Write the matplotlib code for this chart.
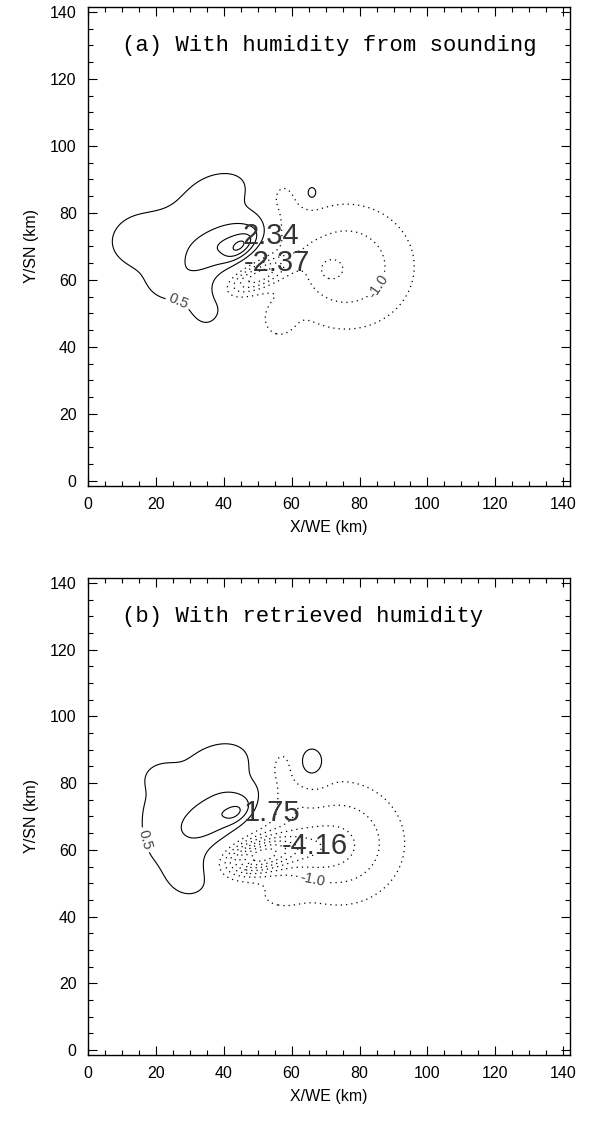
"""Two-panel contour chart: (a) humidity from sounding, (b) retrieved humidity."""
import numpy as np
import matplotlib
matplotlib.use("Agg")
import matplotlib.pyplot as plt
from matplotlib.ticker import MultipleLocator

plt.rcParams["font.family"] = ["Liberation Sans", "DejaVu Sans"]

# --- data ---------------------------------------------------------------------
# field = sum of elliptical gaussian features
# columns: centre x (km), centre y (km), amplitude, sigma major, sigma minor, angle (deg)
blobs_a = [
    (24, 73, 0.75, 14, 8, 10),
    (14, 72, 0.35, 5, 5, 0),
    (39, 87, 0.70, 8, 5, 15),
    (35, 52, 0.75, 4, 5, 0),
    (25, 58, 0.55, 7, 5, 0),
    (42, 71, 1.25, 10, 4.5, 30),
    (45, 70, 0.95, 3.5, 1.8, 40),
    (66, 86, 1.10, 1.3, 1.7, 0),
    (50, 61, -2.10, 6.5, 2.5, 25),
    (76, 64, -1.40, 14, 13, 0),
    (71, 63, -0.40, 2.5, 2.5, 0),
    (57, 84, -0.60, 3.5, 5, 0),
    (60, 76, -0.40, 4, 4, 0),
    (56, 48, -0.60, 3.5, 4, 0),
]
blobs_b = [
    (30, 70, 0.75, 12, 13, 0),
    (20, 66, 0.20, 4, 10, 0),
    (40, 86, 0.70, 7, 5, 20),
    (30, 52, 0.60, 5, 5, 0),
    (22, 82, 0.40, 4, 3, 0),
    (41, 72, 0.90, 9.5, 4, 30),
    (44, 71, 0.55, 3, 1.8, 35),
    (66, 86, 1.10, 3, 3.8, 0),
    (50, 58, -3.40, 7, 3.5, 15),
    (74, 62, -1.50, 13, 12.5, 0),
    (62, 60, -0.80, 8, 5, 0),
    (57, 84, -0.70, 3, 5, 0),
    (60, 75, -0.40, 4, 4, 0),
    (56, 46, -0.45, 5, 3, 0),
]
levels_a = [-2.0, -1.5, -1.0, -0.5, 0.5, 1.0, 1.5, 2.0]
levels_b = [-4.0, -3.5, -3.0, -2.5, -2.0, -1.5, -1.0, -0.5, 0.5, 1.0, 1.5]

# extremum labels: value, x, y (km)
extrema_a = [("2.34", 45.6, 73.0), ("-2.37", 46.0, 65.0)]
extrema_b = [("1.75", 46.0, 71.0), ("-4.16", 57.0, 61.0)]

# labelled contours: level -> (x, y) in km
clabels_a = {0.5: (26.5, 53.0), -1.0: (86.0, 58.0)}
clabels_b = {0.5: (19.0, 63.5), -1.0: (65.6, 48.5)}

titles = ["(a) With humidity from sounding", "(b) With retrieved humidity"]

# --- field --------------------------------------------------------------------
x = np.linspace(0, 141, 283)
y = np.linspace(0, 141, 283)
X, Y = np.meshgrid(x, y)


def make_field(blobs):
    f = np.zeros_like(X)
    for cx, cy, amp, sa, sb, ang in blobs:
        t = np.deg2rad(ang)
        u = (X - cx) * np.cos(t) + (Y - cy) * np.sin(t)
        v = -(X - cx) * np.sin(t) + (Y - cy) * np.cos(t)
        f += amp * np.exp(-0.5 * ((u / sa) ** 2 + (v / sb) ** 2))
    return f


# --- plot ---------------------------------------------------------------------
fig = plt.figure(figsize=(5.89, 11.24), dpi=100)
boxes = [[0.149, 0.5676, 0.819, 0.4262], [0.149, 0.0614, 0.819, 0.4244]]
panels = [
    (blobs_a, levels_a, extrema_a, clabels_a),
    (blobs_b, levels_b, extrema_b, clabels_b),
]

for box, title, (blobs, levels, extrema, clabs) in zip(boxes, titles, panels):
    ax = fig.add_axes(box)
    Z = make_field(blobs)
    for lev in levels:
        if lev > 0:
            cs = ax.contour(X, Y, Z, levels=[lev], colors="black",
                            linewidths=0.8, linestyles="solid")
        else:
            cs = ax.contour(X, Y, Z, levels=[lev], colors="black",
                            linewidths=0.9, linestyles=[(0, (1.0, 3.2))])
        if lev in clabs:
            cs.clabel(manual=[clabs[lev]], fmt="%.1f", fontsize=10.5,
                      inline=True, inline_spacing=3, colors="#444444")
    for txt, ex, ey in extrema:
        ax.text(ex, ey, txt, fontsize=21, color="#333333", ha="left", va="center")

    ax.text(0.072, 0.92, title, transform=ax.transAxes, fontsize=16,
            family="Liberation Mono", va="center", ha="left")

    ax.set_xlim(0, 142)
    ax.set_ylim(-1.5, 141.5)
    ax.xaxis.set_major_locator(MultipleLocator(20))
    ax.xaxis.set_minor_locator(MultipleLocator(5))
    ax.yaxis.set_major_locator(MultipleLocator(20))
    ax.yaxis.set_minor_locator(MultipleLocator(5))
    ax.tick_params(which="both", direction="in", top=True, right=True,
                   labelsize=11.5, width=0.8, pad=8, colors="black")
    ax.tick_params(which="major", length=6.2)
    ax.tick_params(which="minor", length=3.3)
    for sp in ax.spines.values():
        sp.set_linewidth(1.0)
    ax.set_xlabel("X/WE (km)", fontsize=11.5, labelpad=6)
    ax.set_ylabel("Y/SN (km)", fontsize=11.5, labelpad=8)

fig.savefig("out.png", dpi=100)
